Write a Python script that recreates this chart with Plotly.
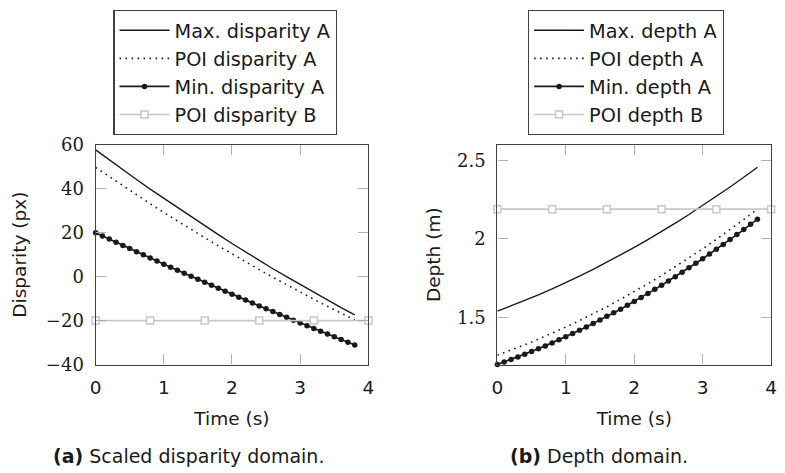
import plotly.graph_objects as go

# ---------------- data ----------------
time_fine = [0.0, 0.1, 0.2, 0.3, 0.4, 0.5, 0.6, 0.7, 0.8, 0.9,
             1.0, 1.1, 1.2, 1.3, 1.4, 1.5, 1.6, 1.7, 1.8, 1.9,
             2.0, 2.1, 2.2, 2.3, 2.4, 2.5, 2.6, 2.7, 2.8, 2.9,
             3.0, 3.1, 3.2, 3.3, 3.4, 3.5, 3.6, 3.7, 3.8]
time_coarse = [0.0, 0.2, 0.4, 0.6, 0.8, 1.0, 1.2, 1.4, 1.6, 1.8,
               2.0, 2.2, 2.4, 2.6, 2.8, 3.0, 3.2, 3.4, 3.6, 3.8]
time_poi_b = [0.0, 0.8, 1.6, 2.4, 3.2, 4.0]

# (a) scaled disparity domain (px)
max_disparity_a = [57.7, 53.1, 48.6, 44.2, 39.8, 35.6, 31.3, 27.2, 23.1, 19.1,
                   15.1, 11.2, 7.4, 3.6, 0.0, -3.6, -7.2, -10.7, -14.1, -17.4]
poi_disparity_a = [49.7, 45.5, 41.3, 37.2, 33.2, 29.2, 25.3, 21.4, 17.7, 14.0,
                   10.3, 6.7, 3.2, -0.3, -3.7, -7.0, -10.3, -13.5, -16.6, -19.7]
min_disparity_a = [20.0, 18.54, 17.09, 15.65, 14.21, 12.77, 11.35, 9.92, 8.51, 7.10,
                   5.70, 4.30, 2.91, 1.53, 0.15, -1.22, -2.59, -3.95, -5.30, -6.65,
                   -7.99, -9.33, -10.66, -11.98, -13.30, -14.61, -15.91, -17.21, -18.50, -19.79,
                   -21.07, -22.34, -23.61, -24.87, -26.13, -27.37, -28.62, -29.85, -31.09]
poi_disparity_b = [-20, -20, -20, -20, -20, -20]

# (b) depth domain (m)
max_depth_a = [1.540, 1.573, 1.607, 1.644, 1.682, 1.721, 1.763, 1.806, 1.851, 1.897,
               1.946, 1.996, 2.047, 2.101, 2.156, 2.213, 2.271, 2.331, 2.393, 2.457]
poi_depth_a = [1.260, 1.292, 1.326, 1.362, 1.399, 1.439, 1.480, 1.523, 1.568, 1.616,
               1.664, 1.715, 1.768, 1.823, 1.879, 1.937, 1.998, 2.060, 2.124, 2.190]
min_depth_a = [1.200, 1.216, 1.232, 1.248, 1.265, 1.283, 1.301, 1.319, 1.338, 1.358,
               1.377, 1.398, 1.419, 1.440, 1.462, 1.484, 1.507, 1.530, 1.553, 1.578,
               1.602, 1.627, 1.653, 1.679, 1.705, 1.732, 1.760, 1.788, 1.816, 1.845,
               1.874, 1.904, 1.935, 1.965, 1.997, 2.028, 2.060, 2.093, 2.126]
poi_depth_b = [2.19, 2.19, 2.19, 2.19, 2.19, 2.19]

x_ticks = [0, 1, 2, 3, 4]
disp_ticks = [-40, -20, 0, 20, 40, 60]
depth_ticks = [1.5, 2, 2.5]
depth_tick_text = ["1.5", "2", "2.5"]

# ---------------- styles ----------------
SANS = "DejaVu Sans"
SERIF = "DejaVu Serif"
BLACK = "#1a1a1a"
GREY = "#c8c8c8"
FRAME = "#404040"
TICK = "#b0b0b0"
SANS_SIZE = 18.5
LEG_SIZE = 19.3

fig = go.Figure()


def add_series(xa, ya, legend, names, maxv, poia, minv, poib):
    common = dict(xaxis=xa, yaxis=ya, legend=legend, cliponaxis=False)
    fig.add_trace(go.Scatter(x=time_coarse, y=maxv, name=names[0], mode="lines",
                             line=dict(color=BLACK, width=1.4), legendgroup=legend + "1",
                             **common))
    fig.add_trace(go.Scatter(x=time_coarse, y=poia, name=names[1], mode="lines",
                             line=dict(color=BLACK, width=1.6, dash="1.6px,4.4px"),
                             legendgroup=legend + "2", **common))
    fig.add_trace(go.Scatter(x=time_fine, y=minv, name=names[2], mode="lines+markers",
                             line=dict(color=BLACK, width=1.7),
                             marker=dict(color=BLACK, size=5.5, symbol="circle"),
                             legendgroup=legend + "3", **common))
    fig.add_trace(go.Scatter(x=time_poi_b, y=poib, name=names[3], mode="lines+markers",
                             line=dict(color=GREY, width=1.6),
                             marker=dict(color="white", size=7, symbol="square",
                                         line=dict(color=GREY, width=1.5)),
                             legendgroup=legend + "4", **common))


add_series("x", "y", "legend",
           ["Max. disparity A", "POI disparity A", "Min. disparity A", "POI disparity B"],
           max_disparity_a, poi_disparity_a, min_disparity_a, poi_disparity_b)
add_series("x2", "y2", "legend2",
           ["Max. depth A", "POI depth A", "Min. depth A", "POI depth B"],
           max_depth_a, poi_depth_a, min_depth_a, poi_depth_b)

W, H = 785, 473
axis_common = dict(showgrid=False, zeroline=False, showline=True, linecolor=FRAME,
                   linewidth=1.3, mirror="ticks", ticks="inside", ticklen=10,
                   tickcolor=TICK, tickwidth=1.3)
y_dom = [1 - 370 / H, 1 - 140 / H]
legend_common = dict(yanchor="top", xanchor="left", bordercolor=FRAME, borderwidth=1.2,
                     bgcolor="white", font=dict(family=SANS, size=LEG_SIZE, color=BLACK),
                     itemwidth=50, tracegroupgap=0, traceorder="grouped")

fig.update_layout(
    width=W, height=H,
    margin=dict(l=0, r=0, t=0, b=0),
    paper_bgcolor="white", plot_bgcolor="white",
    font=dict(family=SANS, size=SANS_SIZE, color=BLACK),
    xaxis=dict(domain=[91 / W, 368 / W], range=[0, 4], tickvals=x_ticks,
               tickfont=dict(family=SANS, size=SANS_SIZE, color=BLACK), ticklabelstandoff=6,
               title=dict(text="Time (s)", standoff=15, font=dict(family=SANS, size=SANS_SIZE)),
               anchor="y", **axis_common),
    yaxis=dict(domain=y_dom, range=[-40, 60], tickvals=disp_ticks,
               tickfont=dict(family=SERIF, size=18, color=BLACK), ticklabelstandoff=7,
               title=dict(text="Disparity (px)", standoff=14, font=dict(family=SANS, size=SANS_SIZE)),
               anchor="x", **axis_common),
    xaxis2=dict(domain=[499 / W, 777 / W], range=[0, 4], tickvals=x_ticks,
                tickfont=dict(family=SANS, size=SANS_SIZE, color=BLACK), ticklabelstandoff=6,
                title=dict(text="Time (s)", standoff=15, font=dict(family=SANS, size=SANS_SIZE)),
                anchor="y2", **axis_common),
    yaxis2=dict(domain=y_dom, range=[1.2, 2.6], tickvals=depth_ticks, ticktext=depth_tick_text,
                tickfont=dict(family=SERIF, size=18, color=BLACK), ticklabelstandoff=7,
                title=dict(text="Depth (m)", standoff=11, font=dict(family=SANS, size=SANS_SIZE)),
                anchor="x2", **axis_common),
    legend=dict(x=109 / W, y=1 + 1 / H, entrywidth=228, **legend_common),
    legend2=dict(x=530 / W, y=1 + 1 / H, entrywidth=217, **legend_common),
    annotations=[
        dict(text="<b>(a)</b> Scaled disparity domain.", x=185 / W, y=1 - 466 / H,
             xref="paper", yref="paper", xanchor="center", yanchor="middle",
             showarrow=False, font=dict(family=SANS, size=19, color=BLACK)),
        dict(text="<b>(b)</b> Depth domain.", x=602 / W, y=1 - 466 / H,
             xref="paper", yref="paper", xanchor="center", yanchor="middle",
             showarrow=False, font=dict(family=SANS, size=19, color=BLACK)),
    ],
)

fig.write_html("out.html")
